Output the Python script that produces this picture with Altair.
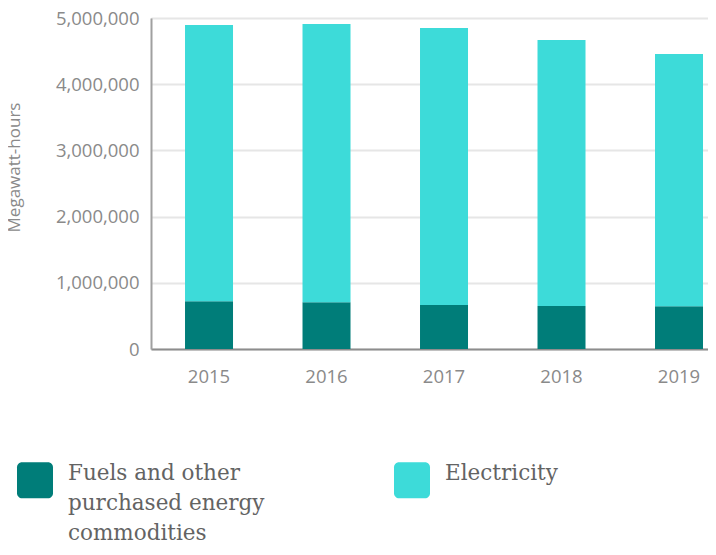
import altair as alt
import pandas as pd

years = ["2015", "2016", "2017", "2018", "2019"]
fuels = [723000, 708000, 663000, 648000, 645000]
electricity = [4172000, 4202000, 4186000, 4021000, 3813000]
series = ["Fuels and other purchased energy commodities", "Electricity"]
colors = ["#007d79", "#3ddbd9"]
y_ticks = [0, 1000000, 2000000, 3000000, 4000000, 5000000]

rows = []
for i, yr in enumerate(years):
    rows.append({"year": yr, "series": series[0], "value": fuels[i], "order": 0})
    rows.append({"year": yr, "series": series[1], "value": electricity[i], "order": 1})
df = pd.DataFrame(rows)

rounded = ("M-0.72,-1H0.72A0.28,0.28 0 0 1 1,-0.72V0.72A0.28,0.28 0 0 1 0.72,1"
           "H-0.72A0.28,0.28 0 0 1 -1,0.72V-0.72A0.28,0.28 0 0 1 -0.72,-1Z")

label_expr = ("datum.label == 'Fuels and other purchased energy commodities' ? "
              "['Fuels and other', 'purchased energy', 'commodities'] : "
              "[datum.label, ' ', ' ']")

grey = "#8a8a8a"

chart = alt.Chart(df).mark_bar().encode(
    x=alt.X(
        "year:N", sort=years, title=None,
        scale=alt.Scale(paddingInner=0.5915, paddingOuter=0.166, align=0.872, round=False),
        axis=alt.Axis(labelAngle=0, ticks=False, domainColor="#8d8d8d", domainWidth=2,
                      labelPadding=18, labelFontSize=18.5, labelColor=grey,
                      labelFont="Open Sans", grid=False),
    ),
    y=alt.Y(
        "value:Q", stack="zero", title="Megawatt-hours",
        scale=alt.Scale(domain=[0, 5000000], nice=False),
        axis=alt.Axis(values=y_ticks, format=",d", ticks=False, grid=True,
                      gridColor="#e6e6e6", gridWidth=2, domainColor="#a0a0a0",
                      domainWidth=2, labelPadding=12, labelFont="Open Sans",
                      labelFontSize=18.5, labelColor=grey,
                      titleFont="Open Sans", titleFontSize=17, titleColor=grey,
                      titleFontWeight="normal", titleAngle=270, titleX=-128,
                      titleY=149, titleBaseline="bottom", titleAlign="center"),
    ),
    color=alt.Color(
        "series:N",
        scale=alt.Scale(domain=series, range=colors),
        legend=alt.Legend(
            title=None, orient="none", legendX=-134, legendY=444,
            direction="horizontal", columns=2, symbolType=rounded,
            symbolSize=1296, symbolStrokeWidth=0, symbolOpacity=1,
            labelFont="DejaVu Serif", labelFontSize=21.5, labelColor="#636363",
            labelOffset=15, labelBaseline="alphabetic", columnPadding=129,
            labelLimit=400, padding=0, labelExpr=label_expr,
        ),
    ),
    order=alt.Order("order:Q"),
).properties(
    width=557, height=331,
    autosize=alt.AutoSizeParams(type="none"),
    padding={"left": 143, "top": 10, "right": 0, "bottom": 198},
).configure_view(strokeWidth=0).configure(
    style={"guide-label": {"lineHeight": 30}}
)

chart.save("out.html", embed_options={"renderer": "svg", "actions": False})
